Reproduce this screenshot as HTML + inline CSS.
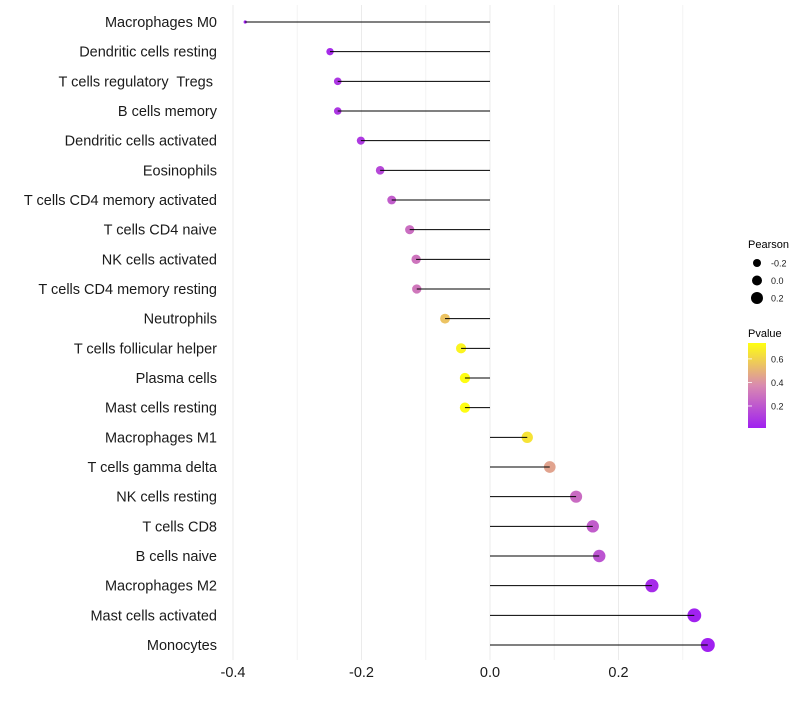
<!DOCTYPE html>
<html><head><meta charset="utf-8"><style>
body{margin:0;background:#fff;font-family:"Liberation Sans",sans-serif;}
svg text{font-family:"Liberation Sans",sans-serif;white-space:pre;}
</style></head><body>
<svg id="chart" width="800" height="700">
<defs><linearGradient id="pg" x1="0" y1="1" x2="0" y2="0">
<stop offset="0" stop-color="#A020F0"/><stop offset="0.5" stop-color="#D98AB0"/><stop offset="1" stop-color="#FFFF10"/>
</linearGradient></defs>
<g id="grid"></g>
<g id="points"></g>
<g id="marks"></g>
<g id="ylabels"></g>
<g id="xlabels"></g>
<g>
<text x="748" y="248" font-size="11">Pearson</text>
<g id="sizeLegend"></g>
</g>
<g>
<text x="748" y="337" font-size="11">Pvalue</text>
<rect x="748" y="343" width="18" height="85" fill="url(#pg)"/>
<g id="colorTicks"></g>
</g>
</svg>
<script>
const categories=["Macrophages M0","Dendritic cells resting","T cells regulatory  Tregs ","B cells memory","Dendritic cells activated","Eosinophils","T cells CD4 memory activated","T cells CD4 naive","NK cells activated","T cells CD4 memory resting","Neutrophils","T cells follicular helper","Plasma cells","Mast cells resting","Macrophages M1","T cells gamma delta","NK cells resting","T cells CD8","B cells naive","Macrophages M2","Mast cells activated","Monocytes"];
const pearson=[-0.381,-0.249,-0.237,-0.237,-0.201,-0.171,-0.153,-0.125,-0.115,-0.114,-0.070,-0.045,-0.039,-0.039,0.058,0.093,0.134,0.160,0.170,0.252,0.318,0.339];
const pvalue=[0.01,0.05,0.09,0.09,0.1,0.15,0.22,0.28,0.3,0.31,0.55,0.7,0.73,0.73,0.65,0.45,0.27,0.22,0.19,0.05,0.02,0.01];
const xTicks=[-0.4,-0.2,0.0,0.2];
const xTickLabels=["-0.4","-0.2","0.0","0.2"];
const minorTicks=[-0.3,-0.1,0.1,0.3];
const sizeLegendVals=[-0.2,0.0,0.2];
const colorTickVals=[0.2,0.4,0.6];
const NS="http://www.w3.org/2000/svg";
const X=v=>490+v*642.5;
const Y=i=>22+i*(623/21);
const R=v=>v<-0.3?1.6:Math.sqrt(Math.max(2,28.6+60*v));
function hex(c){return [1,3,5].map(k=>parseInt(c.substr(k,2),16));}
const stops=[[0.013,hex("#A020F0")],[0.374,hex("#D98AB0")],[0.735,hex("#FFFF10")]];
function col(p){p=Math.max(stops[0][0],Math.min(stops[2][0],p));
 let a=p<=stops[1][0]?stops[0]:stops[1],b=p<=stops[1][0]?stops[1]:stops[2];
 const t=(p-a[0])/(b[0]-a[0]);return "rgb("+a[1].map((v,k)=>Math.round(v+(b[1][k]-v)*t)).join(",")+")";}
function mk(tag,attrs,parent){const e=document.createElementNS(NS,tag);for(const k in attrs)e.setAttribute(k,attrs[k]);document.getElementById(parent).appendChild(e);return e;}
xTicks.concat(minorTicks).forEach((v,i)=>{
 const l=mk('line',{x1:X(v),x2:X(v),y1:5,y2:660,stroke:i<xTicks.length?'#ebebeb':'#f3f3f3','stroke-width':1},'grid');
 
 
});
categories.forEach((c,i)=>{
 const y=Y(i);
 const d=mk('circle',{cx:X(pearson[i]),cy:y,r:R(pearson[i]),fill:col(pvalue[i])},'points');
 
 
 const l=mk('line',{x1:X(0),x2:X(pearson[i]),y1:y,y2:y,stroke:'#000','stroke-width':1},'marks');
 
 
 const t=mk('text',{x:217,y:y+5,'font-size':14.5,'text-anchor':'end',fill:'#1a1a1a'},'ylabels');
 t.textContent=c;
 
 
});
xTicks.forEach((v,i)=>{
 const t=mk('text',{x:X(v),y:677,'font-size':14.5,'text-anchor':'middle',fill:'#1a1a1a'},'xlabels');
 t.textContent=xTickLabels[i];
 
 
});
sizeLegendVals.forEach((v,i)=>{
 const y=263+i*17.5;
 const c=mk('circle',{cx:757,cy:y,r:[4,5,6][i],fill:'#000'},'sizeLegend');
 
 
 const t=mk('text',{x:771,y:y+3.5,'font-size':9,fill:'#1a1a1a'},'sizeLegend');
 t.textContent=v.toFixed(1);
 
 
});
colorTickVals.forEach(v=>{
 const y=428-(v-0.013)/(0.722)*85;
 const l=mk('line',{x1:748,x2:752,y1:y,y2:y,stroke:'#fff','stroke-width':0.8},'colorTicks');
 
 
 const t=mk('text',{x:771,y:y+3.5,'font-size':9,fill:'#1a1a1a'},'colorTicks');
 t.textContent=v.toFixed(1);
 
 
});
</script>
</body></html>
